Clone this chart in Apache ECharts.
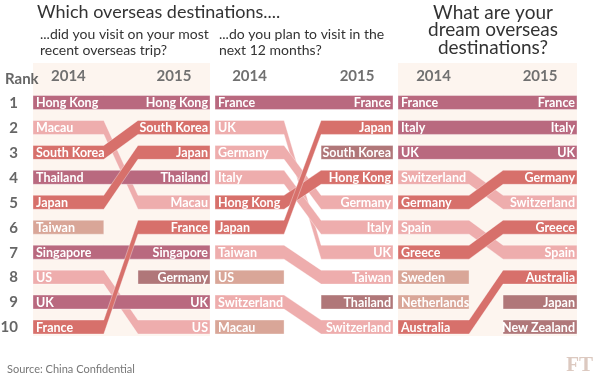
<!DOCTYPE html>
<html>
<head>
<meta charset="utf-8">
<script src="https://cdn.jsdelivr.net/npm/echarts@6/dist/echarts.min.js"></script>
<style>html,body{margin:0;padding:0;background:#fff;}#c{width:600px;height:373px;}</style>
</head>
<body>
<div id="c"></div>
<script>
// ---- data ----
const years = ['2014', '2015'];
const rankLabels = ['1','2','3','4','5','6','7','8','9','10'];
const visited2014 = ['Hong Kong','Macau','South Korea','Thailand','Japan','Taiwan','Singapore','US','UK','France'];
const visited2015 = ['Hong Kong','South Korea','Japan','Thailand','Macau','France','Singapore','Germany','UK','US'];
const planned2014 = ['France','UK','Germany','Italy','Hong Kong','Japan','Taiwan','US','Switzerland','Macau'];
const planned2015 = ['France','Japan','South Korea','Hong Kong','Germany','Italy','UK','Taiwan','Thailand','Switzerland'];
const dream2014 = ['France','Italy','UK','Switzerland','Germany','Spain','Greece','Sweden','Netherlands','Australia'];
const dream2015 = ['France','Italy','UK','Germany','Switzerland','Greece','Spain','Australia','Japan','New Zealand'];

// ---- styling / layout ----
const FONT = 'Lato, "Noto Sans", sans-serif';
const colors = {
  same: '#b9697f', up: '#d7706b', down: '#eeadad', out: '#d9a698', newIn: '#b07779'
};
const zOrder = { down: 1, same: 2, out: 2, newIn: 2, up: 3 };
const panels = [
  { a: visited2014, b: visited2015, left: 33, width: 177, xa: 0.40, xb: 0.593, bg: '#fdf5ef' },
  { a: planned2014, b: planned2015, left: 215, width: 178, xa: 0.388, xb: 0.596, bg: 'rgba(0,0,0,0)' },
  { a: dream2014, b: dream2015, left: 398, width: 179, xa: 0.397, xb: 0.587, bg: '#fdf5ef' }
];
const yMin = -0.583, yMax = 10.36;

function buildItems(a, b) {
  const items = [];
  a.forEach((name, i) => {
    const j = b.indexOf(name);
    const r14 = i + 1, r15 = j >= 0 ? j + 1 : null;
    let kind = r15 === null ? 'out' : (r15 < r14 ? 'up' : (r15 > r14 ? 'down' : 'same'));
    items.push({ name, r14, r15, kind });
  });
  b.forEach((name, j) => {
    if (a.indexOf(name) < 0) items.push({ name, r14: null, r15: j + 1, kind: 'newIn' });
  });
  return items;
}

function makeRender(items, p) {
  return function (params, api) {
    const it = items[params.dataIndex];
    const h = api.size([0, 0.56])[1] / 2;
    const ra = it.r14 !== null ? it.r14 : it.r15;
    const rb = it.r15 !== null ? it.r15 : it.r14;
    const L = api.coord([0, ra])[0];
    const x1 = api.coord([p.xa, ra])[0];
    const x2 = api.coord([p.xb, rb])[0];
    const R = api.coord([1, rb])[0];
    const ya = api.coord([0, ra])[1];
    const yb = api.coord([1, rb])[1];
    let pts;
    if (it.kind === 'out') {
      pts = [[L, ya - h], [x1, ya - h], [x1, ya + h], [L, ya + h]];
    } else if (it.kind === 'newIn') {
      pts = [[x2, yb - h], [R, yb - h], [R, yb + h], [x2, yb + h]];
    } else {
      pts = [[L, ya - h], [x1, ya - h], [x2, yb - h], [R, yb - h], [R, yb + h], [x2, yb + h], [x1, ya + h], [L, ya + h]];
    }
    const children = [{
      type: 'polygon', z2: zOrder[it.kind],
      shape: { points: pts },
      style: { fill: colors[it.kind], stroke: 'rgba(255,255,255,0.35)', lineWidth: 1 }
    }];
    const ts = { fill: '#fff', font: 'bold 12.5px ' + FONT, verticalAlign: 'middle' };
    if (it.r14 !== null) {
      children.push({ type: 'text', z2: 20, style: Object.assign({ text: it.name, x: L + 3, y: ya + 0.5, align: 'left' }, ts) });
    }
    if (it.r15 !== null) {
      children.push({ type: 'text', z2: 20, style: Object.assign({ text: it.name, x: R - 2, y: yb + 0.5, align: 'right' }, ts) });
    }
    return { type: 'group', children };
  };
}

const grids = [], xAxes = [], yAxes = [], series = [];
panels.forEach((p, k) => {
  grids.push({ left: p.left, width: p.width, top: 63, height: 273, show: true, backgroundColor: p.bg, borderWidth: 0 });
  xAxes.push({ type: 'value', gridIndex: k, min: 0, max: 1, show: false });
  yAxes.push({ type: 'value', gridIndex: k, min: yMin, max: yMax, inverse: true, show: false });
  const items = buildItems(p.a, p.b);
  series.push({
    type: 'custom', xAxisIndex: k, yAxisIndex: k, clip: false, silent: true,
    data: items.map(d => [d.r14 !== null ? d.r14 : d.r15, d.r15 !== null ? d.r15 : d.r14]),
    renderItem: makeRender(items, p)
  });
  // year headers
  series.push({
    type: 'custom', xAxisIndex: k, yAxisIndex: k, clip: false, silent: true,
    data: years.map((y, i) => [i === 0 ? p.xa / 2 : (1 + p.xb) / 2, -0.06]),
    renderItem: function (params, api) {
      const c = api.coord([api.value(0), api.value(1)]);
      return { type: 'text', style: { text: years[params.dataIndex], x: c[0], y: c[1], align: 'center', verticalAlign: 'middle', fill: '#707070', font: 'bold 15px ' + FONT } };
    }
  });
});
// rank labels on first panel
series.push({
  type: 'custom', xAxisIndex: 0, yAxisIndex: 0, clip: false, silent: true,
  data: rankLabels.map((r, i) => [-0.085, i + 1]),
  renderItem: function (params, api) {
    const c = api.coord([api.value(0), api.value(1)]);
    return { type: 'text', style: { text: rankLabels[params.dataIndex], x: c[0], y: c[1] + 0.5, align: 'right', verticalAlign: 'middle', fill: '#666', font: 'bold 15px ' + FONT } };
  }
});

const chart = echarts.init(document.getElementById('c'), null, { renderer: 'canvas' });
chart.setOption({
  animation: false,
  backgroundColor: '#fff',
  title: [
    { text: 'Which overseas destinations....', left: 32, top: -2, textStyle: { fontFamily: FONT, fontSize: 18, fontWeight: 'normal', color: '#333' } },
    { text: '...did you visit on your most\nrecent overseas trip?', left: 35, top: 21, textStyle: { fontFamily: FONT, fontSize: 14, lineHeight: 16, fontWeight: 'normal', color: '#333' } },
    { text: '...do you plan to visit in the\nnext 12 months?', left: 214, top: 21, textStyle: { fontFamily: FONT, fontSize: 14, lineHeight: 16, fontWeight: 'normal', color: '#333' } },
    { text: 'What are your\ndream overseas\ndestinations?', left: 488, textAlign: 'center', top: -1, textStyle: { fontFamily: FONT, fontSize: 19, lineHeight: 17.5, fontWeight: 'normal', color: '#333', align: 'center' } },
    { text: 'Rank', left: 0, top: 67, textStyle: { fontFamily: FONT, fontSize: 15, fontWeight: 'bold', color: '#666' } },
    { text: 'Source: China Confidential', left: 2, top: 359, textStyle: { fontFamily: FONT, fontSize: 11, fontWeight: 'normal', color: '#777' } },
    { text: 'FT', right: 2, top: 350, textStyle: { fontFamily: '"Liberation Serif", serif', fontSize: 21, fontWeight: 'bold', color: '#dcc9c0' } }
  ],
  grid: grids, xAxis: xAxes, yAxis: yAxes, series: series
});
</script>
</body>
</html>
